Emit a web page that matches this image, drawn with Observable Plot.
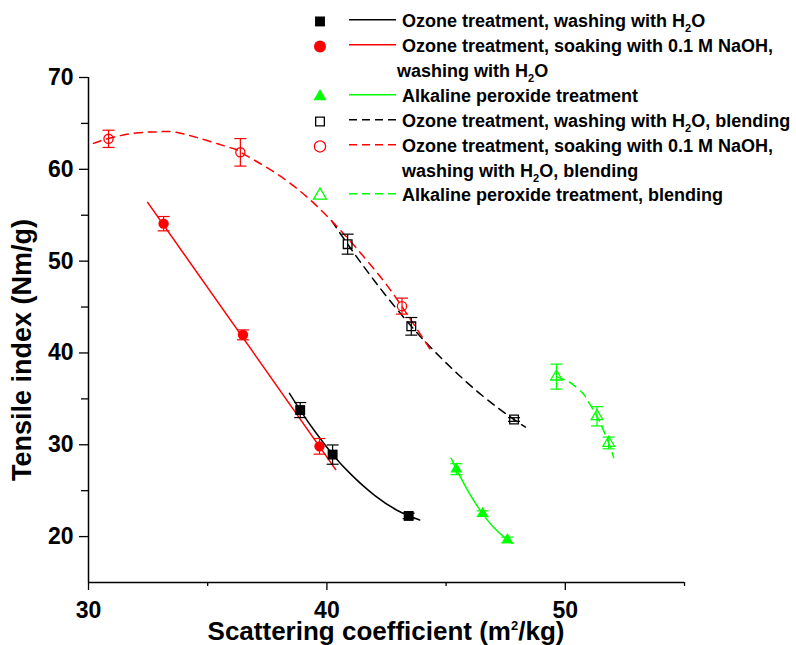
<!DOCTYPE html>
<html><head><meta charset="utf-8">
<script src="https://cdn.jsdelivr.net/npm/d3@7"></script>
<script src="https://cdn.jsdelivr.net/npm/@observablehq/plot@0.6"></script>
<style>
html,body{margin:0;padding:0;background:#fff;}
#wrap{position:relative;width:796px;height:645px;overflow:hidden;font-family:"Liberation Sans",Arial,sans-serif;font-weight:bold;color:#000;background:#fff;}
#chart{position:absolute;left:0;top:0;}
#chart svg text{font-size:23px;font-weight:bold;font-family:"Liberation Sans",Arial,sans-serif;}
.legend{position:absolute;left:312px;top:9.25px;}
.row{display:flex;align-items:center;height:24.9px;font-size:18px;white-space:nowrap;}
.row svg{flex:none;display:block;}
.sub{font-size:11px;position:relative;top:5px;}
.title{position:absolute;height:30px;line-height:30px;text-align:center;white-space:nowrap;}
.sup{font-size:13px;position:relative;top:-10px;}
</style></head><body><div id="wrap"><div id="chart"></div></div>
<script>
// ---------- axes ----------
const xDomain = [30, 55];
const yDomain = [15, 70];
const xMajorTicks = [30, 40, 50];
const xMinorTicks = [35, 45, 55];
const yMajorTicks = [20, 30, 40, 50, 60, 70];
const yMinorTicks = [25, 35, 45, 55, 65];
const xTitle = "Scattering coefficient (m^2/kg)";
const yTitle = "Tensile index (Nm/g)";

// ---------- series labels (legend lines) ----------
const seriesLabels = [
  ["Ozone treatment, washing with H2O"],
  ["Ozone treatment, soaking with 0.1 M NaOH,", "washing with H2O"],
  ["Alkaline peroxide treatment"],
  ["Ozone treatment, washing with H2O, blending"],
  ["Ozone treatment, soaking with 0.1 M NaOH,", "washing with H2O, blending"],
  ["Alkaline peroxide treatment, blending"]
];

// ---------- data: Ozone treatment, washing with H2O ----------
const ozoneH2O_x   = [38.88, 40.24, 43.43];
const ozoneH2O_y   = [33.78, 28.93, 22.25];
const ozoneH2O_err = [0.82, 1.05, 0.30];
const ozoneH2O_fitX = [38.43, 38.88, 39.5, 40.24, 41.0, 42.0, 43.0, 43.89];
const ozoneH2O_fitY = [35.6, 33.78, 31.44, 28.95, 26.8, 24.49, 22.79, 21.8];

// ---------- data: Ozone treatment, soaking with NaOH ----------
const ozoneNaOH_x   = [33.15, 36.48, 39.69];
const ozoneNaOH_y   = [54.08, 41.97, 29.83];
const ozoneNaOH_err = [0.78, 0.54, 0.85];
const ozoneNaOH_fitX = [32.48, 40.37];
const ozoneNaOH_fitY = [56.4, 27.3];

// ---------- data: Alkaline peroxide treatment ----------
const alkaline_x   = [45.43, 46.53, 47.57];
const alkaline_y   = [27.34, 22.5, 19.64];
const alkaline_err = [0.6, 0.3, 0.3];
const alkaline_fitX = [45.21, 45.43, 46.0, 46.53, 47.0, 47.57, 47.77];
const alkaline_fitY = [28.53, 27.34, 24.6, 22.5, 21.0, 19.64, 19.28];

// ---------- data: Ozone treatment, washing with H2O, blending ----------
const ozoneH2OBlend_x   = [40.87, 43.54, 47.85];
const ozoneH2OBlend_y   = [51.85, 42.9, 32.75];
const ozoneH2OBlend_err = [1.09, 0.96, 0.2];
const ozoneH2OBlend_fitX = [40.21, 40.87, 42.0, 43.54, 45.0, 46.5, 47.85, 48.33];
const ozoneH2OBlend_fitY = [54.35, 51.85, 47.84, 42.9, 38.92, 35.39, 32.75, 31.93];

// ---------- data: Ozone treatment, soaking with NaOH, blending ----------
const ozoneNaOHBlend_x   = [30.84, 36.37, 43.15];
const ozoneNaOHBlend_y   = [63.32, 61.85, 45.1];
const ozoneNaOHBlend_err = [0.94, 1.5, 0.87];
const ozoneNaOHBlend_fitX = [30.21, 30.84, 32.0, 33.0, 34.0, 36.0, 36.37, 38.0, 40.0, 42.0, 43.15, 44.45];
const ozoneNaOHBlend_fitY = [62.83, 63.36, 63.96, 64.09, 63.85, 62.31, 61.87, 59.33, 54.92, 49.07, 45.05, 39.94];

// ---------- data: Alkaline peroxide treatment, blending ----------
const alkalineBlend_x   = [49.63, 51.33, 51.82];
const alkalineBlend_y   = [37.42, 33.1, 30.2];
const alkalineBlend_err = [1.36, 1.05, 0.64];
const alkalineBlend_fitX = [49.63, 50.05, 50.35, 50.7, 50.9, 51.33, 51.5, 51.82, 52.03];
const alkalineBlend_fitY = [37.42, 37.0, 36.5, 35.7, 35.0, 33.1, 32.2, 30.2, 28.6];

// ---------- styles ----------
const BLACK = "#000000", RED = "#ff0000", GREEN = "#00ff00";
const series = [
  {x: ozoneH2O_x, y: ozoneH2O_y, e: ozoneH2O_err, fx: ozoneH2O_fitX, fy: ozoneH2O_fitY, color: BLACK, symbol: "square", filled: true, dash: null, r: 5.6, lr: 5.6},
  {x: ozoneNaOH_x, y: ozoneNaOH_y, e: ozoneNaOH_err, fx: ozoneNaOH_fitX, fy: ozoneNaOH_fitY, color: RED, symbol: "circle", filled: true, dash: null, r: 5.2, lr: 6},
  {x: alkaline_x, y: alkaline_y, e: alkaline_err, fx: alkaline_fitX, fy: alkaline_fitY, color: GREEN, symbol: "triangle", filled: true, dash: null, r: 4.4, lr: 4.8},
  {x: ozoneH2OBlend_x, y: ozoneH2OBlend_y, e: ozoneH2OBlend_err, fx: ozoneH2OBlend_fitX, fy: ozoneH2OBlend_fitY, color: BLACK, symbol: "square", filled: false, dash: "8,6", r: 4.9, lr: 4.9},
  {x: ozoneNaOHBlend_x, y: ozoneNaOHBlend_y, e: ozoneNaOHBlend_err, fx: ozoneNaOHBlend_fitX, fy: ozoneNaOHBlend_fitY, color: RED, symbol: "circle", filled: false, dash: "8,6", r: 4.6, lr: 5.6},
  {x: alkalineBlend_x, y: alkalineBlend_y, e: alkalineBlend_err, fx: alkalineBlend_fitX, fy: alkalineBlend_fitY, color: GREEN, symbol: "triangle", filled: false, dash: "8,6", r: 4.3, lr: 4.8}
];

// horizontal cap symbol for error bars
const capSymbol = {draw(ctx, size) { const w = Math.sqrt(size / Math.PI); ctx.moveTo(-w, 0); ctx.lineTo(w, 0); }};

const marks = [];
// axis lines
marks.push(Plot.ruleX([xDomain[0]], {stroke: "#000", strokeWidth: 1.5}));
marks.push(Plot.ruleY([yDomain[0]], {stroke: "#000", strokeWidth: 1.5}));
// axes
marks.push(Plot.axisX({ticks: xMajorTicks, tickSize: 8, tickPadding: 11, fontSize: 23, fontWeight: "bold", strokeWidth: 1.3, label: null, tickFormat: d => String(d)}));
marks.push(Plot.axisX({ticks: xMinorTicks, tickSize: 4, strokeWidth: 1.3, label: null, tickFormat: () => ""}));
marks.push(Plot.axisY({ticks: yMajorTicks, tickSize: 9, tickPadding: 6, fontSize: 23, fontWeight: "bold", strokeWidth: 1.3, label: null, tickFormat: d => String(d)}));
marks.push(Plot.axisY({ticks: yMinorTicks, tickSize: 7, strokeWidth: 1.3, label: null, tickFormat: () => ""}));

// fit curves
series.forEach(s => {
  const fit = s.fx.map((xv, i) => ({x: xv, y: s.fy[i]}));
  marks.push(Plot.line(fit, {x: "x", y: "y", stroke: s.color, strokeWidth: 1.5, strokeDasharray: s.dash || undefined, curve: "natural"}));
});
// error bars + markers
series.forEach(s => {
  const pts = s.x.map((xv, i) => ({x: xv, y: s.y[i], e: s.e[i]}));
  marks.push(Plot.link(pts, {x1: "x", x2: "x", y1: d => d.y - d.e, y2: d => d.y + d.e, stroke: s.color, strokeWidth: 1.2}));
  marks.push(Plot.dot(pts, {x: "x", y: d => d.y + d.e, symbol: capSymbol, r: 6, stroke: s.color, fill: "none", strokeWidth: 1.2}));
  marks.push(Plot.dot(pts, {x: "x", y: d => d.y - d.e, symbol: capSymbol, r: 6, stroke: s.color, fill: "none", strokeWidth: 1.2}));
  marks.push(Plot.dot(pts, {x: "x", y: "y", symbol: s.symbol, r: s.r,
    fill: s.filled ? s.color : "none", stroke: s.filled ? "none" : s.color, strokeWidth: 1.3}));
});

const chart = Plot.plot({
  width: 796, height: 645,
  marginLeft: 88, marginRight: 112, marginTop: 77, marginBottom: 63,
  x: {domain: xDomain, label: null},
  y: {domain: yDomain, label: null},
  style: {background: "transparent", fontFamily: "'Liberation Sans', Arial, sans-serif", fontWeight: "bold", fontSize: "23px", color: "#000", overflow: "visible"},
  marks
});
document.getElementById("chart").appendChild(chart);

// ---------- legend ----------
const wrap = document.getElementById("wrap");
const fmt = t => t.replace(/H2O/g, 'H<span class="sub">2</span>O');
const legend = document.createElement("div");
legend.className = "legend";
wrap.appendChild(legend);
const symbolTypes = {square: d3.symbolSquare, circle: d3.symbolCircle, triangle: d3.symbolTriangle};
series.forEach((s, si) => {
  seriesLabels[si].forEach((line, li) => {
    const row = document.createElement("div");
    row.className = "row";
    const sv = d3.create("svg").attr("width", 90).attr("height", 24.9);
    if (li === 0) {
      sv.append("line").attr("x1", 37).attr("x2", 84).attr("y1", 10.75).attr("y2", 10.75)
        .attr("stroke", s.color).attr("stroke-width", 1.4)
        .attr("stroke-dasharray", s.dash ? "8,5" : null);
      sv.append("path").attr("transform", "translate(8,12.45)")
        .attr("d", d3.symbol(symbolTypes[s.symbol], Math.PI * s.lr * s.lr)())
        .attr("fill", s.filled ? s.color : "none")
        .attr("stroke", s.filled ? "none" : s.color).attr("stroke-width", 1.3);
    }
    row.appendChild(sv.node());
    const span = document.createElement("span");
    span.innerHTML = fmt(line);
    if (si === 1 && li === 1) span.style.marginLeft = "-5px";
    row.appendChild(span);
    legend.appendChild(row);
  });
});

// ---------- axis titles ----------
const xt = document.createElement("div");
xt.className = "title";
xt.style.fontSize = "26px";
xt.style.left = (386 - 300) + "px"; xt.style.width = "600px"; xt.style.top = "616px";
xt.innerHTML = xTitle.replace("^2", '<span class="sup">2</span>');
wrap.appendChild(xt);
const yt = document.createElement("div");
yt.className = "title";
yt.style.fontSize = "27px";
yt.style.left = (21.6 - 200) + "px"; yt.style.width = "400px"; yt.style.top = (350 - 15) + "px";
yt.style.transform = "rotate(-90deg)";
yt.textContent = yTitle;
wrap.appendChild(yt);
</script></body></html>
